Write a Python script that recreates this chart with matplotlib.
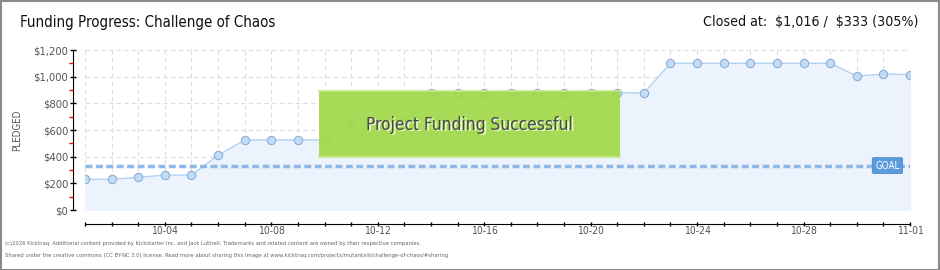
import matplotlib
matplotlib.use("Agg")

import numpy as np
import matplotlib.pyplot as plt
from matplotlib.patches import Rectangle

plt.rcParams['font.family'] = ['DejaVu Sans']
plt.rcParams['font.stretch'] = 'condensed'
plt.rcParams['hatch.color'] = "#b4e264"

# daily pledged totals
dates = ["10-01", "10-02", "10-03", "10-04", "10-05", "10-06", "10-07", "10-08",
         "10-09", "10-10", "10-11", "10-12", "10-13", "10-14", "10-15", "10-16",
         "10-17", "10-18", "10-19", "10-20", "10-21", "10-22", "10-23", "10-24",
         "10-25", "10-26", "10-27", "10-28", "10-29", "10-30", "10-31", "11-01"]
pledged = [230, 230, 245, 262, 262, 410, 525, 525,
           525, 525, 640, 655, 662, 880, 880, 880,
           880, 880, 880, 880, 880, 878, 1100, 1100,
           1100, 1100, 1100, 1100, 1100, 1005, 1020, 1016]
goal = 333
y_ticks = [0, 200, 400, 600, 800, 1000, 1200]
y_labels = ["\\$0", "\\$200", "\\$400", "\\$600", "\\$800", "\\$1,000", "\\$1,200"]
label_dates = ["10-04", "10-08", "10-12", "10-16", "10-20", "10-24", "10-28", "11-01"]

x = np.arange(len(dates))

fig = plt.figure(figsize=(9.4, 2.7), dpi=100)
W, H = 940, 270
ax = fig.add_axes([85 / W, (H - 210) / H, (910 - 85) / W, 160 / H])

# frame around the whole image
fig.patches.append(Rectangle((0.5 / W, 0.5 / H), 1 - 1.5 / W, 1 - 1.5 / H,
                             transform=fig.transFigure, fill=False,
                             edgecolor="#8a8a8a", linewidth=1.5))

ax.set_xlim(0, len(dates) - 1)
ax.set_ylim(0, 1200)

# grid
for xi in x:
    ax.axvline(xi, color="#dcdcdc", linestyle=(0, (4, 3)), linewidth=0.8, zorder=0)
for yt in y_ticks:
    ax.axhline(yt, color="#dcdcdc", linestyle=(0, (4, 3)), linewidth=0.8, zorder=0)

# area + line
ax.fill_between(x, pledged, 0, color="#ecf3fc", zorder=1)
ax.plot(x, pledged, color="#b3d1f2", linewidth=1, zorder=2)
ax.plot(x, pledged, linestyle="none", marker="o", markersize=6,
        markerfacecolor="#c3dcf6", markeredgecolor="#8eaed6", markeredgewidth=0.8, zorder=3)

# goal line
ax.axhline(goal, color="#8db8e8", linestyle=(0, (2, 1)), linewidth=2.5, zorder=2)
ax.text(30.15, goal, "GOAL", color="white", fontsize=7, ha="center", va="center", zorder=6,
        bbox=dict(boxstyle="round,pad=0.3,rounding_size=0.15", facecolor="#5b9bde",
                  edgecolor="#4a88cc", linewidth=0.6))

# success banner
ax.add_patch(Rectangle((8.8, 395), 11.3, 495, facecolor="#a2d94a", alpha=0.93,
                       edgecolor="none", zorder=4, hatch="//////", linewidth=0))
ax.plot([8.8, 20.1], [890, 890], color="#c4e88a", linewidth=1.2, zorder=5)
ax.plot([8.8, 20.1], [395, 395], color="#c4e88a", linewidth=1.2, zorder=5)
ax.text(14.5, 630, "Project Funding Successful", fontsize=12.4, color="white",
        ha="center", va="center", zorder=6, alpha=0.8)
ax.text(14.45, 640, "Project Funding Successful", fontsize=12.4, color="#4a4a4a",
        ha="center", va="center", zorder=6)

# spines
for s in ["top", "right"]:
    ax.spines[s].set_visible(False)
ax.spines["left"].set_position(("outward", 9))
ax.spines["bottom"].set_position(("outward", 10))

ax.set_yticks(y_ticks)
ax.set_yticklabels(y_labels)
ax.set_yticks(np.arange(100, 1200, 200), minor=True)
ax.tick_params(axis="y", which="major", direction="inout", length=4, width=1,
               labelsize=8, labelcolor="#555555", pad=1)
ax.tick_params(axis="y", which="minor", direction="out", length=3, width=1, color="red")

ax.set_xticks(x)
ax.set_xticklabels([d if d in label_dates else "" for d in dates])
ax.tick_params(axis="x", direction="inout", length=3.5, width=1,
               labelsize=7.5, labelcolor="#555555", pad=0)

ax.set_ylabel("PLEDGED", fontsize=7, color="#555555")
ax.yaxis.set_label_coords((22 - 85) / 825, 0.5)

# header
fig.text(20 / W, 1 - 22 / H, "Funding Progress: Challenge of Chaos", fontsize=10.8,
         color="#111111", ha="left", va="center")
fig.text(918 / W, 1 - 22 / H, "Closed at:  \\$1,016 /  \\$333 (305%)", fontsize=10.2,
         color="#111111", ha="right", va="center")

# footer
fig.text(5 / W, 1 - 243 / H,
         "(c)2026 Kicktraq. Additional content provided by Kickstarter Inc. and Jack Luttrell. "
         "Trademarks and related content are owned by their respective companies.",
         fontsize=4.2, color="#666666", ha="left", va="center")
fig.text(5 / W, 1 - 256 / H,
         "Shared under the creative commons (CC BY-NC 3.0) license. Read more about sharing this "
         "image at www.kicktraq.com/projects/mutantxiii/challenge-of-chaos/#sharing",
         fontsize=4.2, color="#666666", ha="left", va="center")

fig.savefig("out.png", dpi=100)
